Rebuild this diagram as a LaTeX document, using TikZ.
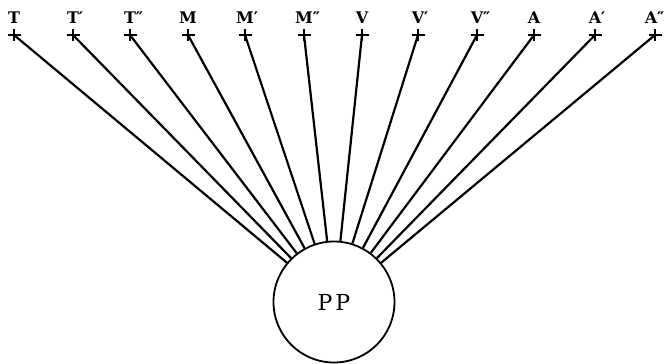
\documentclass[tikz,border=0pt]{standalone}
\usepackage{fontspec}
\newfontfamily\lblfont{DejaVu Serif}
\usetikzlibrary{positioning,calc}

\begin{document}
\begin{tikzpicture}[x=1pt, y=1pt, line width=2.2pt,
  lbl/.style={font=\lblfont\bfseries\fontsize{16}{18}\selectfont, inner sep=0pt},
  cross/.style={line width=2.6pt}]
\useasboundingbox (0,0) rectangle (665,364);
\node[draw, circle, minimum size=121pt, line width=1.8pt, font=\lblfont\fontsize{22}{24}\selectfont] (pp) at (334,62) {P\hspace{3pt}P};
% points on the top row
\coordinate (t0) at (14,329);  \coordinate (t1) at (73,329);  \coordinate (t2) at (130,329);
\coordinate (m0) at (188,329); \coordinate (m1) at (245,329); \coordinate (m2) at (304,329);
\coordinate (v0) at (362,329); \coordinate (v1) at (418,329); \coordinate (v2) at (477,329);
\coordinate (a0) at (534,329); \coordinate (a1) at (595,329); \coordinate (a2) at (655,329);
\node[lbl, above=10pt of t0] (lt0) {T};
\node[lbl, above=10pt of t1] (lt1) {T\rlap{′}};
\node[lbl, above=10pt of t2] (lt2) {T\rlap{″}};
\node[lbl, above=10pt of m0] (lm0) {M};
\node[lbl, above=10pt of m1] (lm1) {M\rlap{′}};
\node[lbl, above=10pt of m2] (lm2) {M\rlap{″}};
\node[lbl, above=10pt of v0] (lv0) {V};
\node[lbl, above=10pt of v1] (lv1) {V\rlap{′}};
\node[lbl, above=10pt of v2] (lv2) {V\rlap{″}};
\node[lbl, above=10pt of a0] (la0) {A};
\node[lbl, above=10pt of a1] (la1) {A\rlap{′}};
\node[lbl, above=10pt of a2, xshift=-4pt] (la2) {A\rlap{″}};
% crosses and rays to PP
\foreach \p in {t0,t1,t2,m0,m1,m2,v0,v1,v2,a0,a1,a2} {
  \draw[cross] ($(\p)+(-6.5,0)$) -- ($(\p)+(6.5,0)$) ($(\p)+(0,-6)$) -- ($(\p)+(0,6)$);
  \draw (\p) -- (pp);
}
\end{tikzpicture}
\end{document}
